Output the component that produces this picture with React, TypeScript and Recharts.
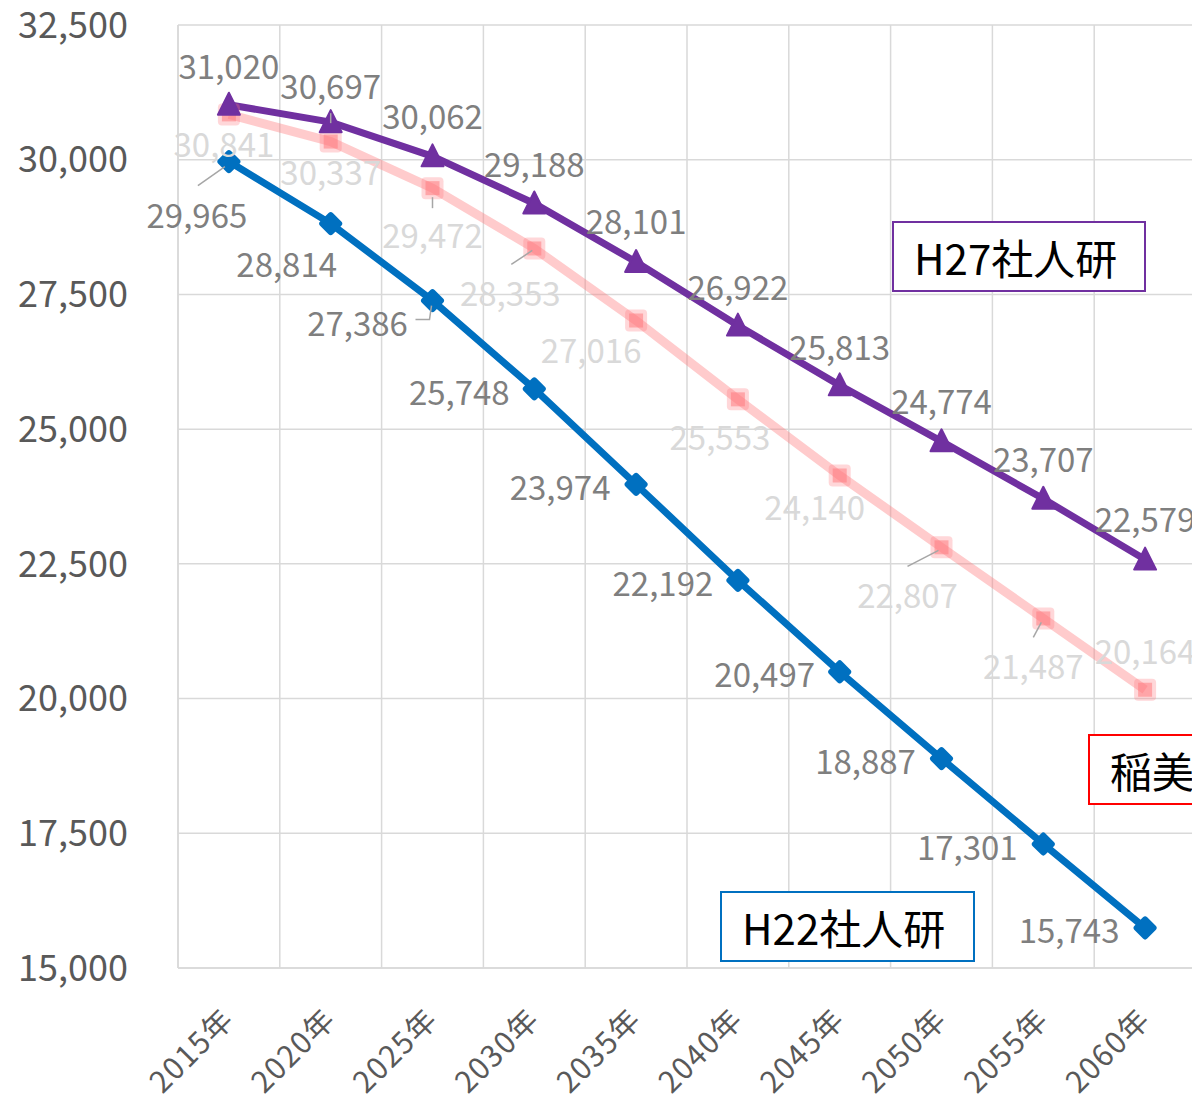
import React from "react";
import { LineChart, Line, XAxis, YAxis, CartesianGrid } from "recharts";

const years = ["2015年", "2020年", "2025年", "2030年", "2035年", "2040年", "2045年", "2050年", "2055年", "2060年"];
const h27 = [31020, 30697, 30062, 29188, 28101, 26922, 25813, 24774, 23707, 22579];
const inami = [30841, 30337, 29472, 28353, 27016, 25553, 24140, 22807, 21487, 20164];
const h22 = [29965, 28814, 27386, 25748, 23974, 22192, 20497, 18887, 17301, 15743];
const yTicks = [15000, 17500, 20000, 22500, 25000, 27500, 30000, 32500];

const data = years.map((year, i) => ({ year, h27: h27[i], inami: inami[i], h22: h22[i] }));

const FONT = '"Noto Sans CJK JP", "Noto Sans", sans-serif';

// label offsets from the point (dx, dy) and optional leader lines
const h27Off = [[0, -40], [0, -37], [0, -41], [0, -40], [0, -42], [0, -40], [0, -39], [0, -41], [0, -41], [0, -42]];
const inamiOff = [[-5, 29], [0, 29], [0, 46], [-24, 44], [-45, 28], [-18, 37], [-25, 31], [-34, 47], [-10, 47], [0, -40]];
const h22Off = [[-32, 52], [-44, 39], [-75, 21], [-75, 2], [-76, 2], [-75, 2], [-75, 1], [-76, 1], [-76, 2], [-76, 1]];

const h27Lead: Record<number, number[]> = { 1: [0, -9, 0, 1] };
const inamiLead: Record<number, number[]> = { 2: [0, 9, 0, 20], 3: [-23, 16, -2, 2], 7: [-34, 19, -3, 3], 8: [-10, 19, -2, 4] };
const h22Lead: Record<number, number[]> = { 0: [-31, 24, -4, 5], 2: [-17, 19, -3, 19, -1, 5] };

const fmt = (v: number) => v.toLocaleString("en-US");

function makeLabel(color: string, off: number[][], lead: Record<number, number[]>) {
  return (p: any) => {
    const { x, y, value, index } = p;
    const [dx, dy] = off[index] || [0, -30];
    const l = lead[index];
    let pts = "";
    if (l) {
      for (let k = 0; k < l.length; k += 2) pts += `${x + l[k]},${y + l[k + 1]} `;
    }
    return (
      <g>
        {l && <polyline points={pts} fill="none" stroke="#a6a6a6" strokeWidth={1.5} />}
        <text
          x={x + dx}
          y={y + dy}
          textAnchor="middle"
          dominantBaseline="central"
          fill={color}
          fontSize={33}
          fontFamily={FONT}
        >
          {fmt(value)}
        </text>
      </g>
    );
  };
}

const Triangle = (p: any) => {
  const { cx, cy, index } = p;
  return (
    <path
      key={`t-${index}`}
      d={`M${cx},${cy - 12} L${cx + 11},${cy + 10} L${cx - 11},${cy + 10} Z`}
      fill="#7030A0"
      stroke="#7030A0"
      strokeWidth={2}
      strokeLinejoin="round"
    />
  );
};

const Diamond = (p: any) => {
  const { cx, cy, index } = p;
  return (
    <rect
      key={`d-${index}`}
      x={cx - 9}
      y={cy - 9}
      width={18}
      height={18}
      rx={3}
      fill="#0070C0"
      transform={`rotate(45 ${cx} ${cy})`}
    />
  );
};

const Square = (p: any) => {
  const { cx, cy, index } = p;
  return (
    <g key={`s-${index}`}>
      <rect x={cx - 11} y={cy - 11} width={22} height={22} rx={4} fill="#FF7C80" fillOpacity={0.3} />
      <rect x={cx - 7} y={cy - 7} width={14} height={14} fill="#FF7C80" fillOpacity={0.55} />
    </g>
  );
};

const XTick = (p: any) => {
  const { x, y, payload } = p;
  return (
    <text
      transform={`translate(${x - 2},${y + 36}) rotate(-45)`}
      textAnchor="end"
      dominantBaseline="central"
      fill="#595959"
      fontSize={30}
      letterSpacing={1.5}
      fontFamily={FONT}
    >
      {payload.value}
    </text>
  );
};

const boxStyle = (color: string, left: number, top: number, width: number): React.CSSProperties => ({
  position: "absolute",
  left,
  top,
  width,
  height: 71,
  boxSizing: "border-box",
  border: `2px solid ${color}`,
  background: "#fff",
  display: "flex",
  alignItems: "center",
  paddingLeft: 20,
  fontFamily: FONT,
  fontSize: 42,
  color: "#000",
  whiteSpace: "nowrap",
});

export default function App() {
  return (
    <div style={{ position: "fixed", left: 0, top: 0, width: 1192, height: 1094, overflow: "hidden", background: "#fff" }}>
      <LineChart
        width={1230}
        height={1094}
        data={data}
        margin={{ top: 25, right: 34, left: 0, bottom: 0 }}
      >
        <CartesianGrid
          stroke="#d9d9d9"
          strokeWidth={1.5}
          verticalCoordinatesGenerator={({ offset }: any) =>
            Array.from({ length: years.length + 1 }, (_, i) => offset.left + (offset.width * i) / years.length)
          }
        />
        <XAxis
          dataKey="year"
          scale="band"
          axisLine={{ stroke: "#d9d9d9", strokeWidth: 1.5 }}
          tickLine={false}
          tick={<XTick />}
          interval={0}
          height={126}
        />
        <YAxis
          domain={[15000, 32500]}
          ticks={yTicks}
          width={178}
          axisLine={{ stroke: "#d9d9d9", strokeWidth: 1.5 }}
          tickLine={false}
          tickMargin={44}
          tickFormatter={fmt}
          tick={{ fill: "#595959", fontSize: 36, fontFamily: FONT }}
          allowDataOverflow
        />
        <Line
          dataKey="inami"
          stroke="#FF7C80"
          strokeOpacity={0.4}
          strokeWidth={9}
          dot={Square}
          label={makeLabel("#d9d9d9", inamiOff, inamiLead)}
          isAnimationActive={false}
        />
        <Line
          dataKey="h22"
          stroke="#0070C0"
          strokeWidth={7}
          dot={Diamond}
          label={makeLabel("#7f7f7f", h22Off, h22Lead)}
          isAnimationActive={false}
        />
        <Line
          dataKey="h27"
          stroke="#7030A0"
          strokeWidth={7}
          dot={Triangle}
          label={makeLabel("#7f7f7f", h27Off, h27Lead)}
          isAnimationActive={false}
        />
      </LineChart>
      <div style={boxStyle("#7030A0", 892, 221, 254)}>H27社人研</div>
      <div style={boxStyle("#FF0000", 1088, 734, 200)}>稲美町</div>
      <div style={boxStyle("#0070C0", 720, 891, 255)}>H22社人研</div>
    </div>
  );
}
